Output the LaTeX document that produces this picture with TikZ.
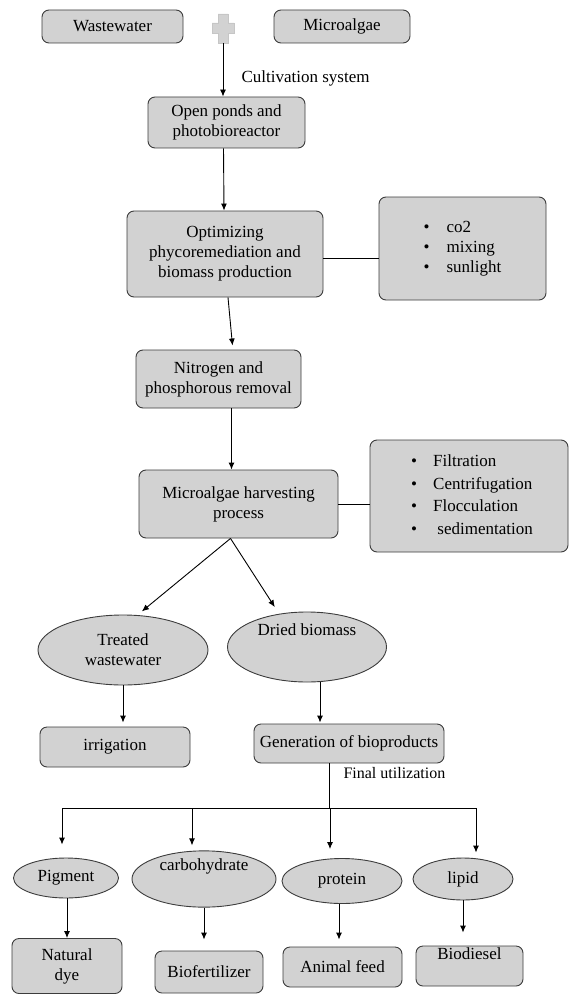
\documentclass[tikz,border=0pt]{standalone}
\usepackage{fontspec}
\setmainfont{Liberation Serif}
\usepackage{tikz}
\usetikzlibrary{shapes.geometric,arrows.meta}
\definecolor{boxfill}{RGB}{210,210,210}
\definecolor{boxline}{RGB}{60,60,60}

\begin{document}
\begin{tikzpicture}[x=1pt,y=-1pt,
  font=\fontsize{17}{20}\selectfont,
  box/.style={draw=boxline,line width=0.9pt,fill=boxfill,rounded corners=7pt,align=center,inner sep=2pt},
  oval/.style={ellipse,draw=boxline,line width=0.9pt,fill=boxfill,align=center,inner sep=0pt},
  arr/.style={-{Latex[length=7pt,width=6pt]},line width=0.9pt},
  link/.style={line width=0.9pt}]
\useasboundingbox (0,0) rectangle (584,995);

\node[box,minimum width=141pt,minimum height=33pt] (ww) at (112.5,26.5) {Wastewater};
\node[box,minimum width=136pt,minimum height=33pt] (ma) at (342,26.5) {Microalgae};
\filldraw[fill=gray!35,draw=gray!45,line width=0.5pt]
  (218,14) -- (228,14) -- (228,23) -- (234,23) -- (234,33) -- (228,33) -- (228,43)
  -- (218,43) -- (218,33) -- (212,33) -- (212,23) -- (218,23) -- cycle;
\coordinate (plus) at (223,43);

\node[box,minimum width=157pt,minimum height=51pt] (op) at (226.5,122.5) {Open ponds and\\photobioreactor};
\node[anchor=west] (cult) at (238,78) {Cultivation system};
\node[box,minimum width=196pt,minimum height=86pt] (opt) at (225,254) {Optimizing\\phycoremediation and\\biomass production};
\node[box,minimum width=167pt,minimum height=103pt] (bul1) at (462.5,248.5)
  {\begin{tabular}{@{}c@{\hspace{17pt}}l@{}}\textbullet & co2\\ \textbullet & mixing\\ \textbullet & sunlight\end{tabular}};
\node[box,minimum width=165pt,minimum height=58pt] (nit) at (218.5,379) {Nitrogen and\\phosphorous removal};
\node[box,minimum width=199pt,minimum height=68pt] (harv) at (238.5,504) {Microalgae harvesting\\process};
\node[box,minimum width=198pt,minimum height=112pt] (bul2) at (469,496)
  {\renewcommand\arraystretch{1.13}\begin{tabular}{@{\hspace{6pt}}c@{\hspace{16pt}}l@{}}\textbullet & Filtration\\ \textbullet & Centrifugation\\ \textbullet & Flocculation\\ \textbullet & \ sedimentation\end{tabular}};

\node[oval,minimum width=170pt,minimum height=70pt] (tw) at (123,650) {Treated\\wastewater};
\node[oval,minimum width=159pt,minimum height=70pt] (db) at (307,647) {Dried biomass\\[14pt]};
\node[box,minimum width=150pt,minimum height=40pt] (irr) at (115,747) {irrigation};
\node[box,minimum width=190pt,minimum height=39pt] (gen) at (349,743.5) {Generation of bioproducts};
\node[anchor=west,font=\fontsize{16}{19}\selectfont] (fin) at (340,773) {Final utilization};

\coordinate (fu) at (329,808);
\coordinate (b1) at (62,808);
\coordinate (b2) at (192,808);
\coordinate (b3) at (330,808);
\coordinate (b4) at (476,808);

\node[oval,minimum width=105pt,minimum height=40pt] (pig) at (66,878) {Pigment};
\node[oval,minimum width=144pt,minimum height=48pt] (carb) at (204,879) {carbohydrate\\[8pt]};
\node[oval,minimum width=120pt,minimum height=45pt] (prot) at (342,881) {protein};
\node[oval,minimum width=100pt,minimum height=42pt] (lip) at (463,879) {lipid};

\node[box,minimum width=110pt,minimum height=55pt] (dye) at (67,966) {Natural\\dye};
\node[box,minimum width=108pt,minimum height=42pt] (bio) at (209,972) {Biofertilizer};
\node[box,minimum width=119pt,minimum height=40pt] (feed) at (342.5,967) {Animal feed};
\node[box,minimum width=107pt,minimum height=40pt] (dsl) at (469.5,966) {Biodiesel\\[4pt]};

\draw[arr] (plus) -- (plus |- op.north);
\draw[arr] ([xshift=-3pt]op.south) -- ([xshift=-1pt]opt.north);
\draw[link] ([yshift=-4pt]opt.east) -- ([yshift=-4pt]opt.east -| bul1.west);
\draw[arr] ([xshift=3pt]opt.south) -- ([xshift=14pt,yshift=4pt]nit.north);
\draw[arr] ([xshift=13pt]nit.south) -- ([xshift=13pt]nit.south |- harv.north);
\draw[link] (harv.east) -- (harv.east -| bul2.west);
\draw[arr,shorten >=5pt] ([xshift=-8pt]harv.south) -- ([xshift=15pt]tw.north);
\draw[arr,shorten >=8pt] ([xshift=-8pt]harv.south) -- (db.130);
\draw[arr,shorten >=4pt] (tw.south) -- (tw.south |- irr.north);
\draw[arr,shorten >=1pt] ([xshift=13pt]db.south) -- ([xshift=13pt]db.south |- gen.north);
\draw[link] (gen.south -| fu) -- (fu);
\draw[link] (b1) -- (b4);
\draw[arr,shorten >=13pt] (b1) -- (b1 |- pig.north);
\draw[arr,shorten >=5pt] (b2) -- (b2 |- carb.north);
\draw[arr,shorten >=9pt] (b3) -- (b3 |- prot.north);
\draw[arr,shorten >=5pt] (b4) -- (b4 |- lip.north);
\draw[arr] ([xshift=1pt]pig.south) -- ([xshift=1pt]pig.south |- dye.north);
\draw[arr,shorten >=11pt] (carb.south) -- (carb.south |- bio.north);
\draw[arr,shorten >=7pt] ([xshift=-3pt]prot.south) -- ([xshift=-3pt]prot.south |- feed.north);
\draw[arr,shorten >=13pt] (lip.south) -- (lip.south |- dsl.north);
\end{tikzpicture}
\end{document}
